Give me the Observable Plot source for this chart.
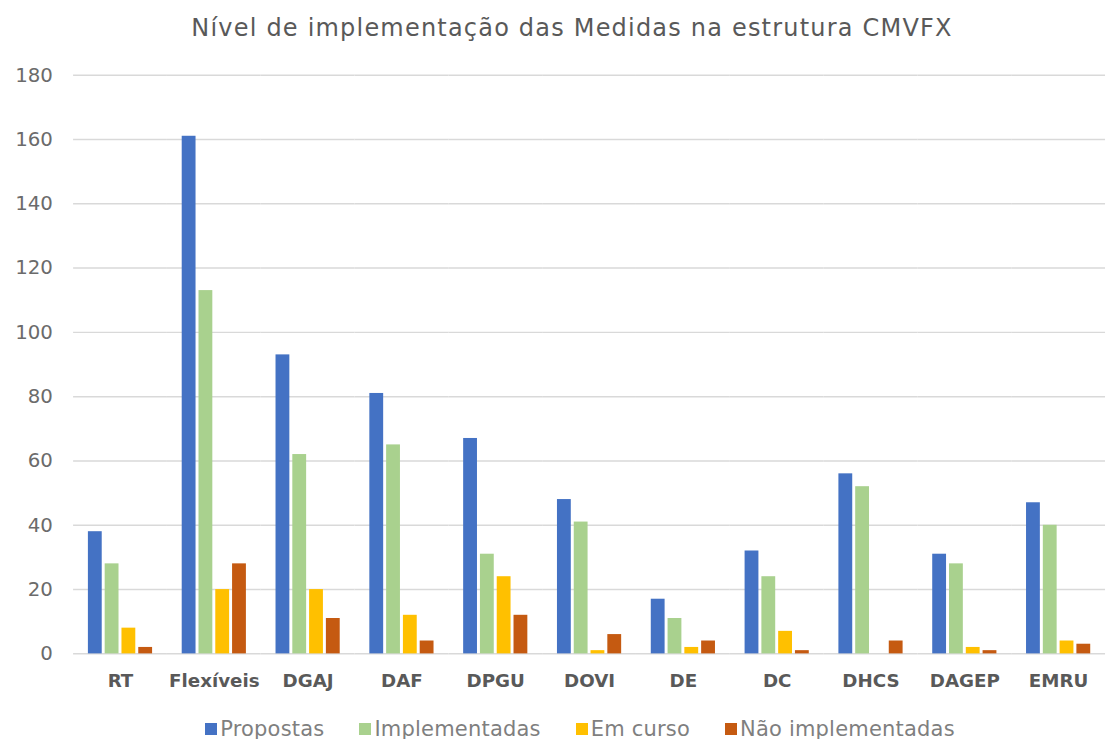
<!DOCTYPE html>
<html>
<head>
<meta charset="utf-8">
<script src="https://cdn.jsdelivr.net/npm/d3@7"></script>
<script src="https://cdn.jsdelivr.net/npm/@observablehq/plot@0.6"></script>
<style>
  html, body { margin: 0; padding: 0; background: #fff; overflow: hidden; }
  #wrap { position: relative; width: 1108px; height: 739px; overflow: hidden; font-family: "DejaVu Sans", sans-serif; }
  #title { position: absolute; top: 12px; left: 36px; width: 1072px; text-align: center; font-size: 24px; letter-spacing: 1.2px; color: #595959; line-height: 32px; }
  #chart { position: absolute; top: 50px; left: 0; }
  #legend { position: absolute; top: 717px; left: 44px; width: 1072px; height: 24px; display: flex; justify-content: center; align-items: center; font-size: 21px; letter-spacing: 0.2px; color: #7f7f7f; gap: 35px; }
  #legend .item { display: flex; align-items: center; gap: 3px; }
  #legend .sw { width: 12px; height: 12px; display: inline-block; }
</style>
</head>
<body>
<div id="wrap">
  <div id="title">Nível de implementação das Medidas na estrutura CMVFX</div>
  <div id="chart"></div>
  <div id="legend"></div>
</div>
<script>
const categories = ["RT", "Flexíveis", "DGAJ", "DAF", "DPGU", "DOVI", "DE", "DC", "DHCS", "DAGEP", "EMRU"];
const seriesNames = ["Propostas", "Implementadas", "Em curso", "Não implementadas"];
const seriesColors = ["#4472C4", "#A9D18E", "#FFC000", "#C55A11"];
const propostas = [38, 161, 93, 81, 67, 48, 17, 32, 56, 31, 47];
const implementadas = [28, 113, 62, 65, 31, 41, 11, 24, 52, 28, 40];
const emCurso = [8, 20, 20, 12, 24, 1, 2, 7, 0, 2, 4];
const naoImplementadas = [2, 28, 11, 4, 12, 6, 4, 1, 4, 1, 3];
const yTicks = [0, 20, 40, 60, 80, 100, 120, 140, 160, 180];

const seriesValues = [propostas, implementadas, emCurso, naoImplementadas];
const data = [];
categories.forEach((c, i) => {
  seriesNames.forEach((s, j) => {
    data.push({category: c, series: s, value: seriesValues[j][i]});
  });
});

const chart = Plot.plot({
  width: 1122,
  height: 657,
  marginLeft: 70,
  marginRight: 0,
  marginTop: 25,
  marginBottom: 46,
  style: {fontFamily: "DejaVu Sans, sans-serif", background: "transparent"},
  fx: {domain: categories, paddingInner: 0, paddingOuter: 0, label: null, axis: null},
  x: {domain: seriesNames, paddingInner: 0.2, paddingOuter: 0.863, axis: null},
  y: {domain: [0, 180], ticks: yTicks, axis: null},
  color: {domain: seriesNames, range: seriesColors},
  marks: [
    Plot.gridY(yTicks, {stroke: "#d9d9d9", strokeOpacity: 1, strokeWidth: 1.5}),
    Plot.barY(data, {fx: "category", x: "series", y: "value", fill: "series"}),
    Plot.axisY({ticks: yTicks, tickSize: 0, tickPadding: 21, fontSize: 20, fill: "#6b6b6b", label: null}),
    Plot.axisFx({anchor: "bottom", tickSize: 0, tickPadding: 20, fontSize: 18.5, fill: "#595959", fontWeight: "bold", label: null})
  ]
});
document.getElementById("chart").appendChild(chart);

const legend = document.getElementById("legend");
seriesNames.forEach((s, j) => {
  const item = document.createElement("div");
  item.className = "item";
  const sw = document.createElement("span");
  sw.className = "sw";
  sw.style.background = seriesColors[j];
  const t = document.createElement("span");
  t.textContent = s;
  item.appendChild(sw);
  item.appendChild(t);
  legend.appendChild(item);
});
</script>
</body>
</html>
